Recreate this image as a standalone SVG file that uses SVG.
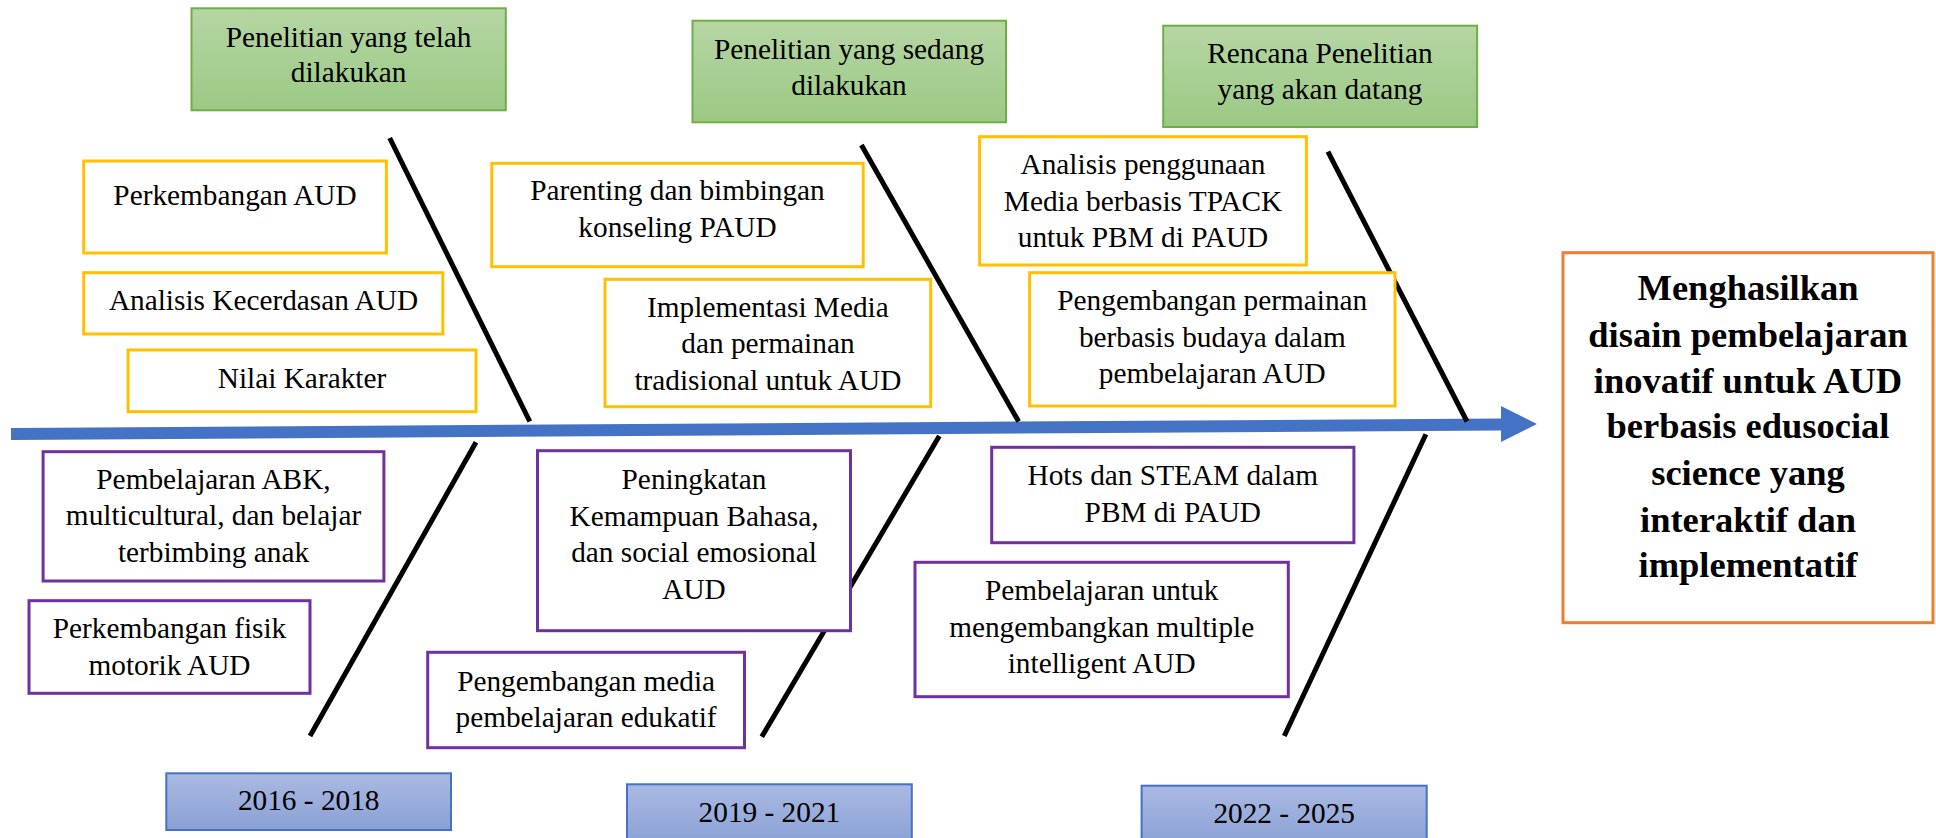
<svg xmlns="http://www.w3.org/2000/svg" width="1936" height="838" viewBox="0 0 1936 838" font-family="Liberation Serif, Times New Roman, serif">
<defs>
<linearGradient id="gGreen" x1="0" y1="0" x2="0" y2="1">
<stop offset="0" stop-color="#b6d6a4"/>
<stop offset="1" stop-color="#9bc984"/>
</linearGradient>
<linearGradient id="gBlue" x1="0" y1="0" x2="0" y2="1">
<stop offset="0" stop-color="#aab9e1"/>
<stop offset="1" stop-color="#8aa1d6"/>
</linearGradient>
<style>
text{font-family:'Liberation Serif','Times New Roman',serif;font-size:29.3px;fill:#000;text-anchor:middle}
.green{fill:url(#gGreen);stroke:#70ad47;stroke-width:2}
.year{fill:url(#gBlue);stroke:#4472c4;stroke-width:2}
.yel{fill:#fff;stroke:#ffc000;stroke-width:3}
.pur{fill:#fff;stroke:#7030a0;stroke-width:3}
.out{fill:#fff;stroke:#ed7d31;stroke-width:3}
.bone{stroke:#000;stroke-width:5;fill:none}
text.bold{font-weight:bold;font-size:36.5px}
</style>
</defs>
<rect width="1936" height="838" fill="#fff"/>
<g id="connectors">
<polygon points="11,428 1501,418.5 1501,406 1537,424 1501,442 1501,430.5 11,440" fill="#4472c4"/>
<line class="bone" x1="389.7" y1="138" x2="529.8" y2="421.5"/>
<line class="bone" x1="861.4" y1="145" x2="1018.6" y2="421.5"/>
<line class="bone" x1="1327.9" y1="151.7" x2="1467" y2="421.5"/>
<line class="bone" x1="476" y1="442.3" x2="310" y2="736"/>
<line class="bone" x1="939.3" y1="436" x2="761.8" y2="736.7"/>
<line class="bone" x1="1425.9" y1="434.3" x2="1284.3" y2="736"/>
</g>
<g id="head1">
<rect class="green" x="191.5" y="8.3" width="314.3" height="102"/>
<text x="348.6" y="47">Penelitian yang telah</text>
<text x="348.6" y="82">dilakukan</text>
</g>
<g id="head2">
<rect class="green" x="692.5" y="20.7" width="313.5" height="101.6"/>
<text x="849" y="58.5">Penelitian yang sedang</text>
<text x="849" y="94.5">dilakukan</text>
</g>
<g id="head3">
<rect class="green" x="1163.2" y="25.7" width="313.9" height="101.3"/>
<text x="1320" y="62.7">Rencana Penelitian</text>
<text x="1320" y="99.3">yang akan datang</text>
</g>
<g id="n-perkembangan">
<rect class="yel" x="83.7" y="161" width="302.7" height="92"/>
<text x="235" y="205">Perkembangan AUD</text>
</g>
<g id="n-kecerdasan">
<rect class="yel" x="83.7" y="272.7" width="359.1" height="61.3"/>
<text x="263.5" y="310">Analisis Kecerdasan AUD</text>
</g>
<g id="n-karakter">
<rect class="yel" x="128.1" y="350" width="347.9" height="61.7"/>
<text x="302" y="388.3">Nilai Karakter</text>
</g>
<g id="n-parenting">
<rect class="yel" x="491.8" y="163.3" width="371.4" height="103.4"/>
<text x="677.5" y="200">Parenting dan bimbingan</text>
<text x="677.5" y="236.7">konseling PAUD</text>
</g>
<g id="n-implementasi">
<rect class="yel" x="605" y="279.3" width="325.7" height="127.4"/>
<text x="767.9" y="316.7">Implementasi Media</text>
<text x="767.9" y="353.3">dan permainan</text>
<text x="767.9" y="390">tradisional untuk AUD</text>
</g>
<g id="n-tpack">
<rect class="yel" x="979.6" y="136.7" width="326.8" height="128.3"/>
<text x="1143" y="174">Analisis penggunaan</text>
<text x="1143" y="210.7">Media berbasis TPACK</text>
<text x="1143" y="247.3">untuk PBM di PAUD</text>
</g>
<g id="n-budaya">
<rect class="yel" x="1029.6" y="272.7" width="365.4" height="133.3"/>
<text x="1212.3" y="310">Pengembangan permainan</text>
<text x="1212.3" y="346.7">berbasis budaya dalam</text>
<text x="1212.3" y="383.3">pembelajaran AUD</text>
</g>
<g id="n-abk">
<rect class="pur" x="43.1" y="451.7" width="340.8" height="129.3"/>
<text x="213.5" y="489.3">Pembelajaran ABK,</text>
<text x="213.5" y="525">multicultural, dan belajar</text>
<text x="213.5" y="561.7">terbimbing anak</text>
</g>
<g id="n-fisik">
<rect class="pur" x="29" y="600.7" width="281" height="92.6"/>
<text x="169.5" y="638.3">Perkembangan fisik</text>
<text x="169.5" y="675">motorik AUD</text>
</g>
<g id="n-bahasa">
<rect class="pur" x="537.5" y="450.7" width="313" height="180"/>
<text x="694" y="489.3">Peningkatan</text>
<text x="694" y="526">Kemampuan Bahasa,</text>
<text x="694" y="562.3">dan social emosional</text>
<text x="694" y="599">AUD</text>
</g>
<g id="n-media">
<rect class="pur" x="427.7" y="652.3" width="316.8" height="95.4"/>
<text x="586.1" y="690.7">Pengembangan media</text>
<text x="586.1" y="726.7">pembelajaran edukatif</text>
</g>
<g id="n-steam">
<rect class="pur" x="991.7" y="447.3" width="362.2" height="95.4"/>
<text x="1172.8" y="485">Hots dan STEAM dalam</text>
<text x="1172.8" y="521.7">PBM di PAUD</text>
</g>
<g id="n-multiple">
<rect class="pur" x="915" y="562.3" width="373.3" height="134.4"/>
<text x="1101.7" y="600">Pembelajaran untuk</text>
<text x="1101.7" y="636.7">mengembangkan multiple</text>
<text x="1101.7" y="673.3">intelligent AUD</text>
</g>
<g id="year1">
<rect class="year" x="166.3" y="773.3" width="284.7" height="56.7"/>
<text x="308.7" y="810">2016 - 2018</text>
</g>
<g id="year2">
<rect class="year" x="627" y="784.3" width="284.8" height="60"/>
<text x="769.4" y="821.7">2019 - 2021</text>
</g>
<g id="year3">
<rect class="year" x="1141.6" y="785.7" width="285.1" height="60"/>
<text x="1284.2" y="823.3">2022 - 2025</text>
</g>
<g id="outcome">
<rect class="out" x="1563" y="252.7" width="370" height="370"/>
<text class="bold" x="1748" y="300">Menghasilkan</text>
<text class="bold" x="1748" y="346.7">disain pembelajaran</text>
<text class="bold" x="1748" y="392.7">inovatif untuk AUD</text>
<text class="bold" x="1748" y="438.3">berbasis edusocial</text>
<text class="bold" x="1748" y="485">science yang</text>
<text class="bold" x="1748" y="531.7">interaktif dan</text>
<text class="bold" x="1748" y="576.7">implementatif</text>
</g>
</svg>
